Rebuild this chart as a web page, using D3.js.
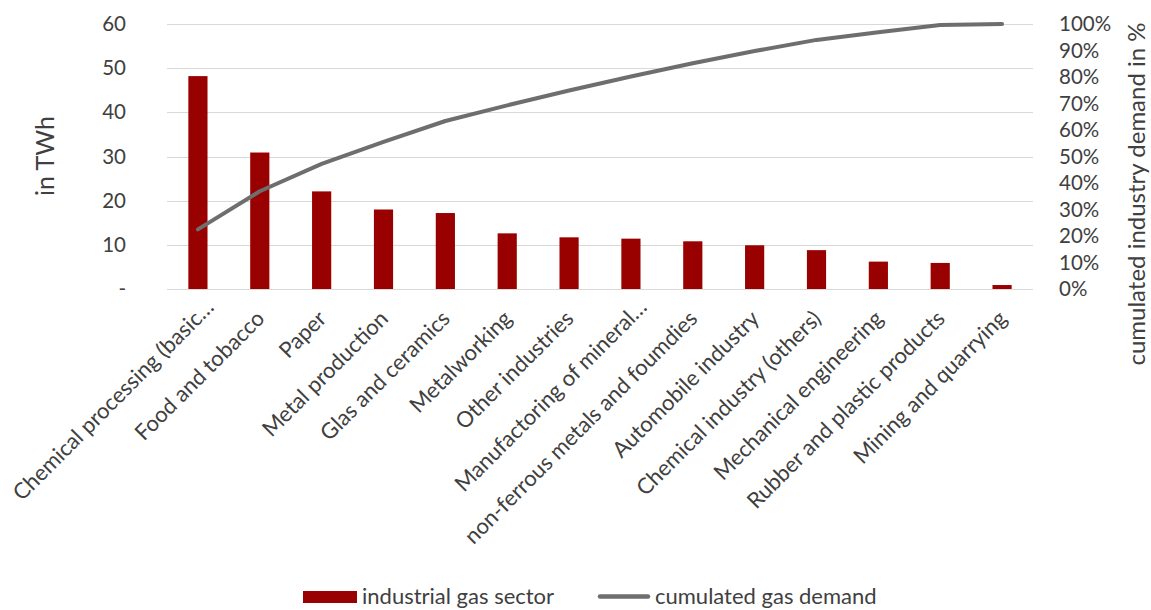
<!DOCTYPE html>
<html>
<head>
<meta charset="utf-8">
<script src="https://cdn.jsdelivr.net/npm/d3@7"></script>
<style>
html,body{margin:0;padding:0;background:#fff;}
svg{display:block;font-family:Lato,"Open Sans",sans-serif;}
</style>
</head>
<body>
<svg id="chart" width="1151" height="610"></svg>
<script>
const categories = [
  "Chemical processing (basic…",
  "Food and tobacco",
  "Paper",
  "Metal production",
  "Glas and ceramics",
  "Metalworking",
  "Other industries",
  "Manufactoring of mineral…",
  "non-ferrous metals and foumdies",
  "Automobile industry",
  "Chemical industry (others)",
  "Mechanical engineering",
  "Rubber and plastic products",
  "Mining and quarrying"
];
const sectorTWh = [48.2, 30.9, 22.1, 18.0, 17.2, 12.6, 11.7, 11.4, 10.8, 9.9, 8.8, 6.2, 5.9, 0.9];
const cumulatedPct = [22.5, 36.9, 47.2, 55.5, 63.4, 69.3, 74.9, 80.2, 85.2, 89.8, 94.0, 96.9, 99.6, 100];
const leftTicks = [0, 10, 20, 30, 40, 50, 60];
const rightTicks = [0, 10, 20, 30, 40, 50, 60, 70, 80, 90, 100];
const seriesNames = ["industrial gas sector", "cumulated gas demand"];
const axisTitles = {left: "in TWh", right: "cumulated industry demand in %"};

const svg = d3.select("#chart");
const M = {left: 167, right: 1033, top: 24, bottom: 289};
const textColor = "#404040";
const barColor = "#990000";
const lineColor = "#6e6e6e";

const x = d3.scaleBand().domain(categories).range([M.left, M.right]).paddingInner(0.69).paddingOuter(0.345);
const xc = d3.scalePoint().domain(categories).range([M.left, M.right]).padding(0.5);
const y = d3.scaleLinear().domain([0, 60]).range([M.bottom, M.top]);
const y2 = d3.scaleLinear().domain([0, 100]).range([M.bottom, M.top]);

// gridlines
svg.append("g").selectAll("line").data(leftTicks).join("line")
  .attr("x1", M.left).attr("x2", M.right)
  .attr("y1", d => Math.round(y(d)) + 0.5).attr("y2", d => Math.round(y(d)) + 0.5)
  .attr("stroke", "#d9d9d9").attr("stroke-width", 1.2);

// left axis
const gl = svg.append("g").attr("transform", `translate(${M.left - 38},0)`)
  .call(d3.axisLeft(y).tickValues(leftTicks).tickSize(0).tickFormat(d => d === 0 ? "-" : d));
gl.select(".domain").remove();
gl.selectAll("text").attr("font-size", 20.5).attr("fill", textColor).attr("font-family", "Lato");

// right axis
const gr = svg.append("g").attr("transform", `translate(${M.right + 23},0)`)
  .call(d3.axisRight(y2).tickValues(rightTicks).tickSize(0).tickFormat(d => d + "%"));
gr.select(".domain").remove();
gr.selectAll("text").attr("font-size", 20.5).attr("fill", textColor).attr("font-family", "Lato");

// axis titles
svg.append("text").attr("transform", "translate(54,156) rotate(-90)")
  .attr("text-anchor", "middle").attr("font-size", 25).attr("fill", textColor).text(axisTitles.left);
svg.append("text").attr("transform", "translate(1145,194) rotate(-90)")
  .attr("text-anchor", "middle").attr("font-size", 24).attr("fill", textColor).text(axisTitles.right);

// bars
svg.append("g").selectAll("rect").data(sectorTWh).join("rect")
  .attr("x", (d, i) => x(categories[i]))
  .attr("width", x.bandwidth())
  .attr("y", d => y(d))
  .attr("height", d => y(0) - y(d))
  .attr("fill", barColor);

// line
const line = d3.line().x((d, i) => xc(categories[i])).y(d => y2(d));
svg.append("path").datum(cumulatedPct).attr("d", line)
  .attr("fill", "none").attr("stroke", lineColor).attr("stroke-width", 4)
  .attr("stroke-linecap", "round").attr("stroke-linejoin", "round");

// x labels (truncated labels sit a little further along, as in the source)
svg.append("g").selectAll("text").data(categories).join("text")
  .attr("transform", d => `translate(${xc(d) + 6},${M.bottom + 31}) rotate(-45)`)
  .attr("dx", d => d.endsWith("…") ? 16 : 0)
  .attr("text-anchor", "end").attr("font-size", 22).attr("fill", textColor)
  .text(d => d);

// legend
const lg = svg.append("g");
lg.append("rect").attr("x", 303).attr("y", 591).attr("width", 54).attr("height", 12).attr("fill", barColor);
lg.append("text").attr("x", 362).attr("y", 604).attr("font-size", 22).attr("fill", textColor).text(seriesNames[0]);
lg.append("line").attr("x1", 600).attr("x2", 648).attr("y1", 596.5).attr("y2", 596.5)
  .attr("stroke", lineColor).attr("stroke-width", 4.5).attr("stroke-linecap", "round");
lg.append("text").attr("x", 655).attr("y", 604).attr("font-size", 22).attr("fill", textColor).text(seriesNames[1]);
</script>
</body>
</html>
